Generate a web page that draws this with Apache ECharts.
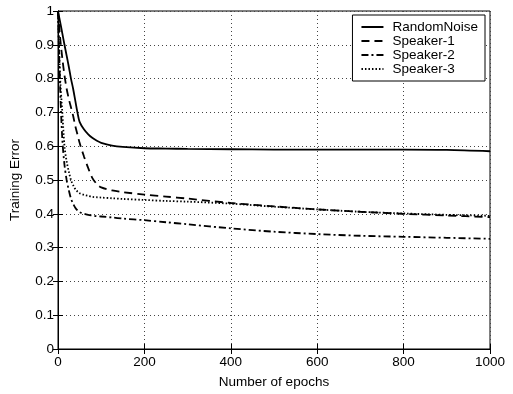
<!DOCTYPE html>
<html>
<head>
<meta charset="utf-8">
<title>Training Error</title>
<script src="https://cdn.jsdelivr.net/npm/echarts@6/dist/echarts.min.js"></script>
<style>
  html, body { margin: 0; padding: 0; background: #fff; }
  #container { width: 513px; height: 394px; }
</style>
</head>
<body>
<div id="container"></div>
<script>
var epochs = [0, 5, 10, 15, 20, 25, 30, 35, 40, 45, 50, 60, 70, 80, 90, 100, 125, 150, 200, 250, 300, 400, 500, 600, 700, 800, 900, 1000];

var randomNoise = [1.0, 0.967, 0.934, 0.90, 0.868, 0.835, 0.80, 0.77, 0.735, 0.70, 0.672, 0.65, 0.635, 0.624, 0.616, 0.61, 0.602, 0.598, 0.594, 0.593, 0.592, 0.591, 0.590, 0.590, 0.590, 0.590, 0.589, 0.585];
var speaker1 = [1.0, 0.92, 0.86, 0.81, 0.77, 0.74, 0.715, 0.69, 0.66, 0.635, 0.61, 0.57, 0.535, 0.505, 0.488, 0.478, 0.469, 0.464, 0.457, 0.451, 0.445, 0.432, 0.422, 0.413, 0.406, 0.40, 0.395, 0.39];
var speaker2 = [1.0, 0.77, 0.62, 0.545, 0.50, 0.47, 0.445, 0.43, 0.418, 0.41, 0.405, 0.40, 0.397, 0.395, 0.393, 0.392, 0.389, 0.386, 0.381, 0.375, 0.369, 0.357, 0.347, 0.340, 0.335, 0.332, 0.329, 0.326];
var speaker3 = [1.0, 0.80, 0.70, 0.60, 0.555, 0.525, 0.50, 0.485, 0.473, 0.466, 0.461, 0.456, 0.453, 0.45, 0.449, 0.448, 0.446, 0.444, 0.441, 0.438, 0.436, 0.43, 0.421, 0.413, 0.406, 0.401, 0.397, 0.394];

var seriesNames = ['RandomNoise', 'Speaker-1', 'Speaker-2', 'Speaker-3'];
var seriesVals = [randomNoise, speaker1, speaker2, speaker3];
var dashTypes = ['solid', [8, 5], [7, 3, 2, 3], [1.5, 2]];

function pairs(vals) {
  return epochs.map(function (e, i) { return [e, vals[i]]; });
}

var font = 'Liberation Sans, Arial, sans-serif';
var myChart = echarts.init(document.getElementById('container'));

var series = seriesNames.map(function (n, i) {
  return {
    name: n,
    type: 'line',
    data: pairs(seriesVals[i]),
    symbol: 'none',
    smooth: 0.3,
    lineStyle: { color: '#000', width: 1.8, type: dashTypes[i] },
    itemStyle: { color: '#000' }
  };
});

var gridLine = { show: true, lineStyle: { color: '#444', width: 1, type: [1, 3] } };
var tick = { show: true, inside: true, length: 5, lineStyle: { color: '#000' } };

var option = {
  animation: false,
  backgroundColor: '#fff',
  grid: { left: 58, right: 23, top: 11, bottom: 44, show: true, borderColor: '#000', borderWidth: 1 },
  legend: {
    orient: 'vertical',
    right: 28,
    top: 15,
    padding: [5, 7, 5, 8],
    itemWidth: 22,
    itemHeight: 10,
    itemGap: 0,
    backgroundColor: '#fff',
    borderColor: '#000',
    borderWidth: 1,
    borderRadius: 0,
    itemStyle: { color: 'transparent', borderColor: 'transparent', borderWidth: 0 },
    textStyle: { fontFamily: font, fontSize: 13.5, lineHeight: 14, height: 14, color: '#000', padding: [0, 0, 0, 4] },
    data: seriesNames
  },
  xAxis: [{
    type: 'value',
    min: 0, max: 1000, interval: 200,
    name: 'Number of epochs',
    nameLocation: 'middle',
    nameGap: 26,
    nameTextStyle: { fontFamily: font, fontSize: 13.5, color: '#000' },
    axisLine: { show: true, lineStyle: { color: '#000' } },
    axisTick: tick,
    axisLabel: {
      fontFamily: font, fontSize: 13.5, color: '#000', margin: 6,
      formatter: function (v) { return String(v); }
    },
    splitLine: gridLine
  }, {
    type: 'value', position: 'top',
    min: 0, max: 1000, interval: 200,
    axisLine: { show: true, lineStyle: { color: '#000' } },
    axisTick: tick,
    axisLabel: { show: false },
    splitLine: { show: false }
  }],
  yAxis: [{
    type: 'value',
    min: 0, max: 1, interval: 0.1,
    name: 'Training Error',
    nameLocation: 'middle',
    nameGap: 36,
    nameTextStyle: { fontFamily: font, fontSize: 13.5, color: '#000' },
    axisLine: { show: true, lineStyle: { color: '#000' } },
    axisTick: tick,
    axisLabel: {
      fontFamily: font, fontSize: 13.5, color: '#000', margin: 4,
      formatter: function (v) { return String(Math.round(v * 10) / 10); }
    },
    splitLine: gridLine
  }, {
    type: 'value', position: 'right',
    min: 0, max: 1, interval: 0.1,
    axisLine: { show: true, lineStyle: { color: '#000' } },
    axisTick: tick,
    axisLabel: { show: false },
    splitLine: { show: false }
  }],
  series: series
};

myChart.setOption(option);
</script>
</body>
</html>
